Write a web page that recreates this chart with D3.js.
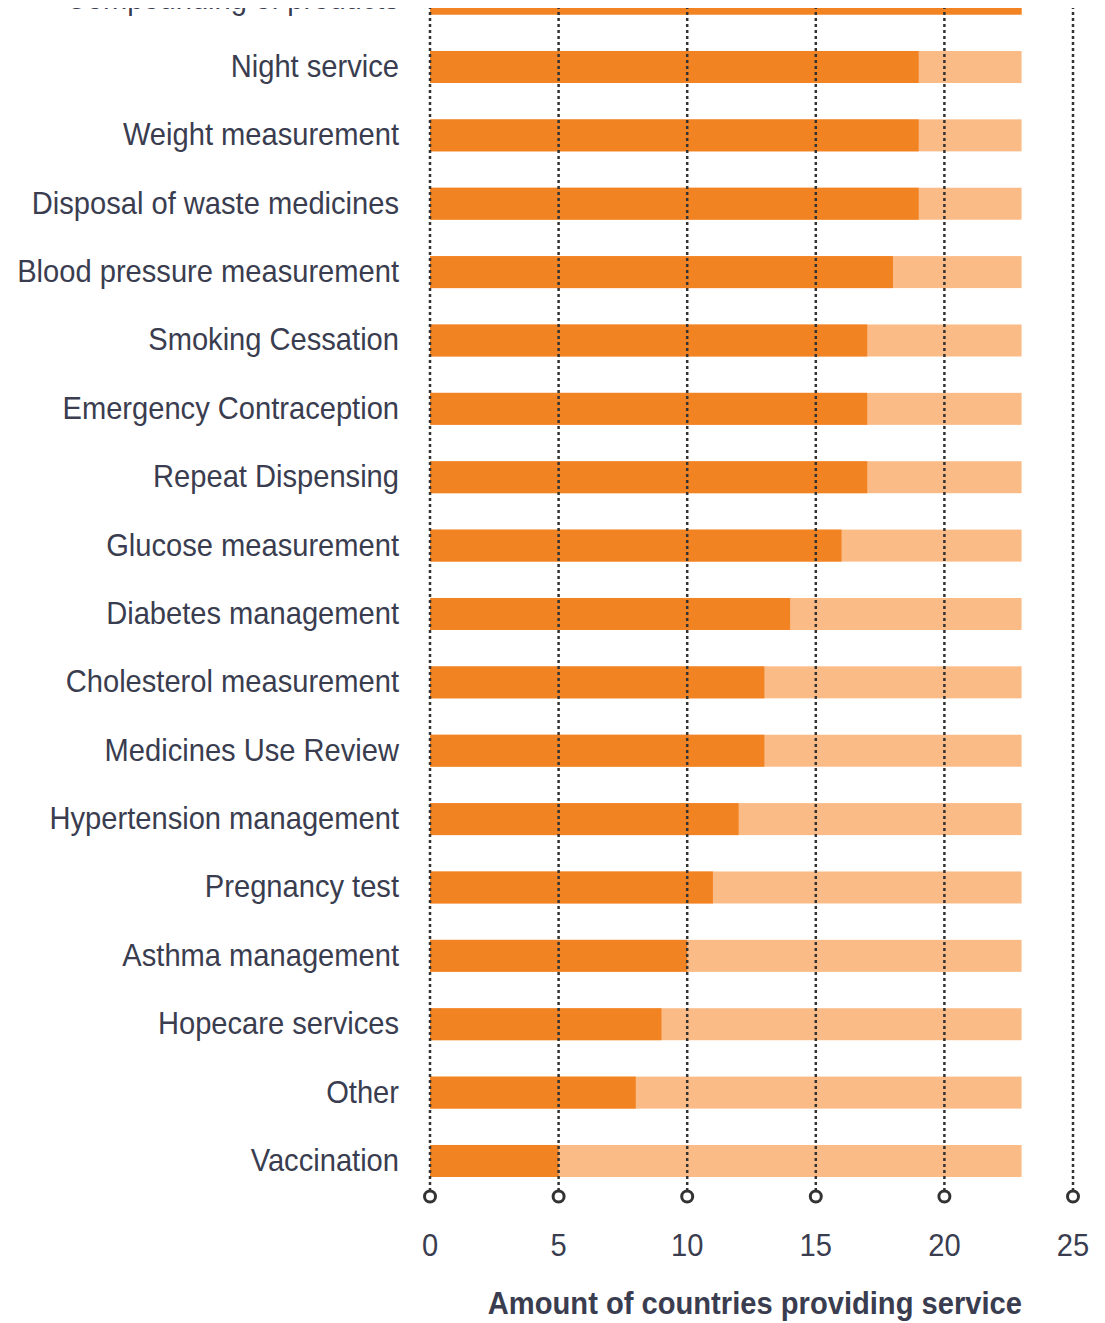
<!DOCTYPE html>
<html>
<head>
<meta charset="utf-8">
<script src="https://cdn.jsdelivr.net/npm/d3@7"></script>
<style>
  html, body { margin: 0; padding: 0; background: #ffffff; }
  svg text { font-family: "Liberation Sans Narrow", "Arial Narrow", "Liberation Sans", sans-serif; }
</style>
</head>
<body>
<svg id="chart" width="1105" height="1323"></svg>
<script>
"use strict";

// services, top row is cut off in the original picture
const services = [
    'Compounding of products',
    'Night service',
    'Weight measurement',
    'Disposal of waste medicines',
    'Blood pressure measurement',
    'Smoking Cessation',
    'Emergency Contraception',
    'Repeat Dispensing',
    'Glucose measurement',
    'Diabetes management',
    'Cholesterol measurement',
    'Medicines Use Review',
    'Hypertension management',
    'Pregnancy test',
    'Asthma management',
    'Hopecare services',
    'Other',
    'Vaccination'
];

const providing = [23, 19, 19, 19, 18, 17, 17, 17, 16, 14, 13, 13, 12, 11, 10, 9, 8, 5];
const countriesTotal = 23;
const xTicks = [0, 5, 10, 15, 20, 25];
const xTitle = 'Amount of countries providing service';

const darkOrange = '#f28322';
const lightOrange = '#fbbb86';
const textColor = '#3a3d4f';
const gridColor = '#333333';

// the original uses a condensed face, squeeze the sans a bit
const squeeze = 0.91;

const svg = d3.select('#chart');

const x = d3.scaleLinear()
            .domain([0, 25])
            .range([430, 1073]);

const step = 68.375;
const y = d3.scaleBand()
            .domain(services)
            .range([-1.4 - step / 2, -1.4 + (services.length - 0.5) * step])
            .paddingInner(0.532)
            .paddingOuter(0.266);

// the picture is cropped just above the first row
svg.append('clipPath')
   .attr('id', 'crop')
   .append('rect')
   .attr('x', 0)
   .attr('y', 8)
   .attr('width', 1105)
   .attr('height', 1315);

const g = svg.append('g')
             .attr('clip-path', 'url(#crop)');

const rows = services.map(function(s, i){
    return {name: s, value: providing[i]};
});

// background bars = all countries
g.append('g')
 .selectAll('rect')
 .data(rows)
 .enter()
 .append('rect')
 .attr('x', x(0))
 .attr('y', function(d){ return y(d.name); })
 .attr('width', x(countriesTotal) - x(0))
 .attr('height', y.bandwidth())
 .attr('fill', lightOrange);

g.append('g')
 .selectAll('rect')
 .data(rows)
 .enter()
 .append('rect')
 .attr('x', x(0))
 .attr('y', function(d){ return y(d.name); })
 .attr('width', function(d){ return x(d.value) - x(0); })
 .attr('height', y.bandwidth())
 .attr('fill', darkOrange);

// dotted grid on top of the bars
const gridBottom = 1190;
g.append('g')
 .selectAll('line')
 .data(xTicks)
 .enter()
 .append('line')
 .attr('x1', function(d){ return x(d); })
 .attr('x2', function(d){ return x(d); })
 .attr('y1', 0)
 .attr('y2', gridBottom)
 .attr('stroke', gridColor)
 .attr('stroke-width', 2.5)
 .attr('stroke-dasharray', '3,3');

g.append('g')
 .selectAll('circle')
 .data(xTicks)
 .enter()
 .append('circle')
 .attr('cx', function(d){ return x(d); })
 .attr('cy', 1196.5)
 .attr('r', 5.5)
 .attr('fill', '#ffffff')
 .attr('stroke', gridColor)
 .attr('stroke-width', 3);

// tick labels
g.append('g')
 .selectAll('text')
 .data(xTicks)
 .enter()
 .append('text')
 .attr('transform', function(d){
     return 'translate(' + x(d) + ',1256) scale(' + squeeze + ',1)';
 })
 .attr('text-anchor', 'middle')
 .attr('fill', textColor)
 .style('font-size', '32px')
 .text(function(d){ return d; });

// category labels
g.append('g')
 .selectAll('text')
 .data(rows)
 .enter()
 .append('text')
 .attr('transform', function(d){
     const ty = y(d.name) + y.bandwidth() / 2 + 10;
     return 'translate(' + (x(0) - 31) + ',' + ty + ') scale(' + squeeze + ',1)';
 })
 .attr('text-anchor', 'end')
 .attr('fill', textColor)
 .style('font-size', '32px')
 .text(function(d){ return d.name; });

g.append('text')
 .attr('transform', 'translate(1022,1314) scale(0.94,1)')
 .attr('text-anchor', 'end')
 .attr('fill', textColor)
 .style('font-size', '31px')
 .style('font-weight', 'bold')
 .text(xTitle);

</script>
</body>
</html>
